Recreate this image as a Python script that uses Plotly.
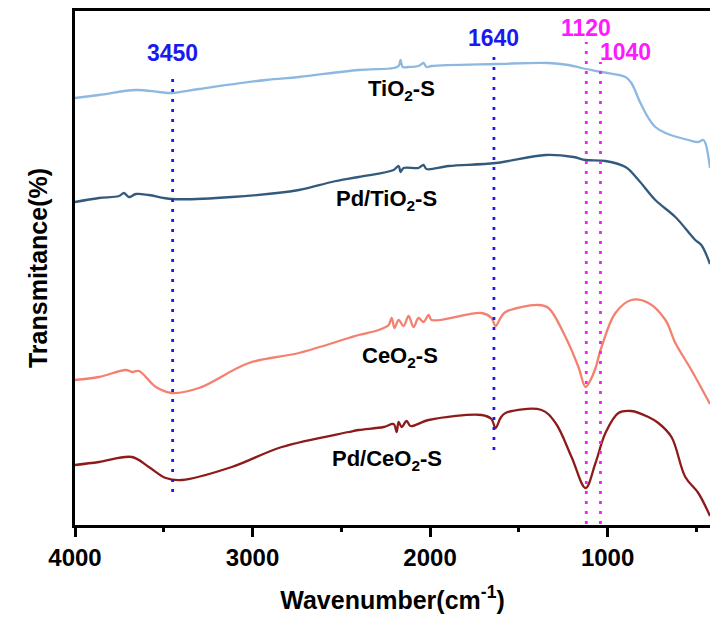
import plotly.graph_objects as go

# ---- data (wavenumber in cm-1, transmittance in arbitrary offset units) ----
tio2_wn = [4000, 3865, 3657, 3527, 3454, 3302, 2925, 2739, 2402, 2205, 2177, 2166, 2154, 2121,
           2065, 2037, 2020, 1991, 1631, 1333, 1220, 1147, 1034, 899, 866, 815, 770, 731, 674,
           545, 489, 461, 449, 423]
tio2_t = [426, 429, 434, 432, 431, 435, 444, 447, 454, 456, 458, 464, 457, 457,
          458, 461, 457, 458, 460, 461, 459, 456, 452, 447, 441, 421, 406, 397, 391,
          384, 382, 384, 381, 356]

pdtio2_wn = [4000, 3865, 3752, 3724, 3696, 3657, 3584, 3454, 3117, 2739, 2554, 2402, 2205, 2177,
             2166, 2149, 2065, 2037, 2020, 1896, 1631, 1350, 1192, 1124, 1012, 899, 826, 731,
             618, 506, 472, 423]
pdtio2_t = [322, 326, 328, 331, 327, 330, 329, 325, 327, 334, 342, 347, 354, 358,
            352, 356, 356, 359, 355, 358, 361, 369, 367, 364, 363, 357, 344, 324,
            307, 284, 279, 260]

ceo2_wn = [4000, 3865, 3713, 3679, 3640, 3544, 3454, 3302, 3021, 2739, 2458, 2402, 2290, 2233,
           2216, 2200, 2177, 2149, 2121, 2093, 2065, 2037, 2008, 1991, 1710, 1654, 1631, 1603,
           1575, 1389, 1333, 1237, 1164, 1124, 1096, 1068, 1034, 956, 866, 770, 674, 618, 528, 423]
ceo2_t = [144, 147, 154, 152, 153, 137, 131, 136, 161, 171, 186, 189, 194, 199,
          206, 196, 204, 198, 208, 197, 206, 202, 209, 204, 211, 206, 198, 206,
          212, 219, 216, 187, 157, 137, 144, 156, 177, 211, 224, 221, 204, 181, 154, 120]

pdceo2_wn = [4000, 3865, 3679, 3584, 3488, 3398, 3117, 2835, 2458, 2402, 2261, 2205, 2188, 2177,
             2160, 2132, 2110, 2008, 1710, 1654, 1631, 1603, 1575, 1372, 1293, 1203, 1124, 1068,
             1012, 939, 866, 770, 714, 640, 562, 489, 423]
pdceo2_t = [59, 62, 67, 57, 46, 44, 57, 77, 92, 94, 97, 100, 92, 102,
            97, 103, 98, 104, 109, 105, 96, 106, 111, 114, 101, 67, 36, 61,
            91, 111, 113, 107, 101, 87, 47, 31, 8]

series_names = ["TiO<sub>2</sub>-S", "Pd/TiO<sub>2</sub>-S", "CeO<sub>2</sub>-S", "Pd/CeO<sub>2</sub>-S"]
series_colors = ["#8DB8E0", "#335A7C", "#F4806F", "#8E1B1B"]
label_pos = [(2161, 434), (2244, 324), (2171, 167), (2244, 64)]

peak_wn = [3450, 1640, 1120, 1040]
peak_colors = ["#1A1AF0", "#1A1AF0", "#FF19FF", "#FF19FF"]
peak_line_y = [(32, 452), (74, 474), (0, 482), (0, 462)]
peak_label_pos = [(3450, 471), (1640, 486), (1120, 496), (899, 472)]

x_range = [4000, 423]
y_range = [-1, 513]

FONT = "Liberation Sans, Arial, sans-serif"

fig = go.Figure()
for wn, t, name, col in zip([tio2_wn, pdtio2_wn, ceo2_wn, pdceo2_wn],
                            [tio2_t, pdtio2_t, ceo2_t, pdceo2_t],
                            series_names, series_colors):
    fig.add_trace(go.Scatter(x=wn, y=t, mode="lines", name=name,
                             line=dict(color=col, width=2.3, shape="spline", smoothing=1.0),
                             showlegend=False))

for wn, col, (y0, y1) in zip(peak_wn, peak_colors, peak_line_y):
    fig.add_shape(type="line", x0=wn, x1=wn, y0=y0, y1=y1, xref="x", yref="y",
                  line=dict(color=col, width=2.8, dash="3px,7px"))

for wn, col, (lx, ly) in zip(peak_wn, peak_colors, peak_label_pos):
    fig.add_annotation(x=lx, y=ly, text="<b>%d</b>" % wn, showarrow=False,
                       font=dict(family=FONT, size=23, color=col))

for name, (lx, ly) in zip(series_names, label_pos):
    fig.add_annotation(x=lx, y=ly, text="<b>%s</b>" % name, showarrow=False,
                       font=dict(family=FONT, size=22, color="black"))

fig.update_layout(
    width=710, height=633,
    margin=dict(l=75, r=0, t=11, b=108),
    paper_bgcolor="white", plot_bgcolor="white",
    font=dict(family=FONT, color="black"),
)
fig.update_xaxes(
    range=x_range, showgrid=False, zeroline=False,
    showline=True, linecolor="black", linewidth=3, mirror=True,
    ticks="outside", ticklen=9, tickwidth=3, tickcolor="black",
    tickmode="linear", tick0=0, dtick=1000,
    tickfont=dict(family=FONT, size=24, color="black"),
    tickprefix="<b>", ticksuffix="</b>",
    minor=dict(ticks="outside", dtick=500, tick0=0, ticklen=4, tickwidth=3, tickcolor="black"),
    title=dict(text="<b>Wavenumber(cm<sup>-1</sup>)</b>", font=dict(family=FONT, size=25),
               standoff=22),
)
fig.update_yaxes(
    range=y_range, showgrid=False, zeroline=False,
    showline=True, linecolor="black", linewidth=3, mirror=False,
    ticks="", showticklabels=False,
    title=dict(text="<b>Transmitance(%)</b>", font=dict(family=FONT, size=25), standoff=18),
)

fig.write_html("out.html")
